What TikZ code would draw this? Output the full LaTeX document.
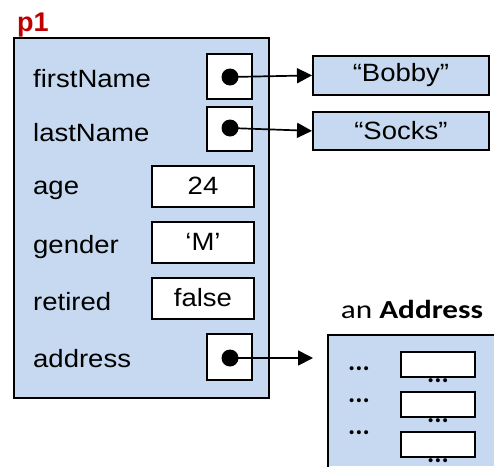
\documentclass[tikz,border=0pt]{standalone}
\usepackage{fontspec}
\setmainfont{Liberation Sans}
\newfontfamily\calfont{Carlito}
\usetikzlibrary{arrows.meta}
\definecolor{objblue}{HTML}{C6D9F0}
\definecolor{labelred}{HTML}{C00000}
\newcommand{\wide}[1]{\scalebox{1.1}[1]{#1}}
\begin{document}
\begin{tikzpicture}[x=1pt,y=-1pt,
  objbox/.style={draw=black,line width=1.8pt,fill=objblue},
  slotbox/.style={draw=black,line width=1.8pt,fill=white,inner sep=0pt},
  field/.style={anchor=west,inner sep=0pt,font=\fontsize{25}{30}\selectfont},
  val/.style={inner sep=0pt,font=\fontsize{25}{30}\selectfont},
  ellip/.style={inner sep=0pt,anchor=base,font=\calfont\bfseries\fontsize{27}{32}\selectfont},
  ref/.style={-{Triangle[length=15pt,width=15pt]},line width=1.7pt},
  dotmark/.style={circle,fill=black,inner sep=0pt,minimum size=17pt}]
\useasboundingbox (0,0) rectangle (494,466);

% object p1
\node[anchor=base west,inner sep=0pt,text=labelred,font=\bfseries\fontsize{27}{32}\selectfont] (p1) at (17,31) {p1};
\draw[objbox] (14,38) rectangle (269,398);
\node[field] (fFirst) at (33,79) {\wide{firstName}};
\node[field] (fLast) at (33,133) {\wide{lastName}};
\node[field] (fAge) at (33,190) {\wide{age}};
\node[field] (fGender) at (33,247) {\wide{gender}};
\node[field] (fRetired) at (33,302) {\wide{retired}};
\node[field] (fAddr) at (33,359) {\wide{address}};

% reference slots
\draw[slotbox] (207,54) rectangle (252,99);
\draw[slotbox] (207,107) rectangle (252,151);
\draw[slotbox] (207,334) rectangle (252,380);
\node[dotmark] (d1) at (230,77) {};
\node[dotmark] (d2) at (230,128) {};
\node[dotmark] (d3) at (230,358) {};

% value slots
\draw[slotbox] (152,166) rectangle (254,207);
\node[val] (vAge) at (203,186) {\wide{24}};
\draw[slotbox] (152,222) rectangle (254,263);
\node[val] (vGender) at (203,242) {\wide{‘M’}};
\draw[slotbox] (152,278) rectangle (254,319);
\node[val] (vRetired) at (203,298) {\wide{false}};

% string objects
\node[objbox,minimum width=176pt,minimum height=39pt,inner sep=0pt,anchor=north west,font=\fontsize{25}{30}\selectfont] (bobby) at (312,55) {\wide{“Bobby”}};
\node[objbox,minimum width=176pt,minimum height=38pt,inner sep=0pt,anchor=north west,font=\fontsize{25}{30}\selectfont] (socks) at (312,111) {\wide{“Socks”}};

% Address object (runs past the right and bottom edges)
\node[anchor=base,inner sep=0pt,font=\calfont\fontsize{26}{31}\selectfont] (addrTitle) at (412,318) {\scalebox{1.2}[1]{an \textbf{Address}}};
\fill[objblue] (329,336) rectangle (494,466);
\draw[line width=1.8pt] (328,470) -- (328,335) -- (498,335);
\coordinate (addrIn) at (313,358);
\foreach \y/\n in {370/1,402/2,434/3}{
  \node[ellip] (dots\n) at (359,\y) {...};
}
\foreach \y/\n in {351/1,391/2,431/3}{
  \node[slotbox,anchor=north west,minimum width=74pt,minimum height=25pt] (slot\n) at (400,\y) {};
  \node[ellip] (inner\n) at ([yshift=-5pt]slot\n.south) {...};
}

% references
\draw[ref] (d1.center) -- (bobby.west);
\draw[ref] (d2.center) -- (socks.west);
\draw[ref] (d3.center) -- (addrIn);
\end{tikzpicture}
\end{document}
